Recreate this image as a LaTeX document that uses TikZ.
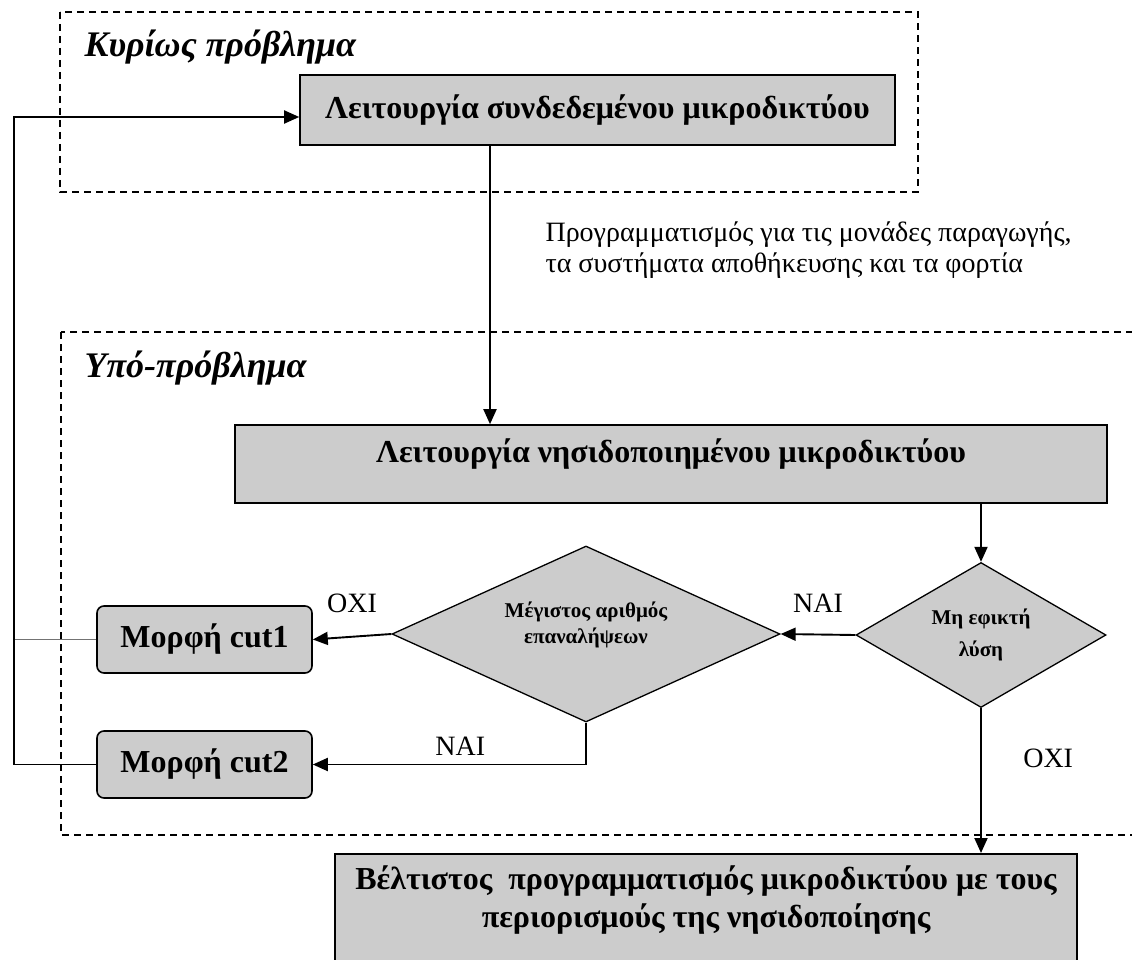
\documentclass[tikz,border=0pt]{standalone}
\usepackage{fontspec}
\setmainfont{Liberation Serif}
\usetikzlibrary{arrows.meta,positioning,shapes.geometric}

\begin{document}
\begin{tikzpicture}[
  x=1pt,y=-1pt,
  font=\fontsize{28}{31}\selectfont,
  box/.style={draw,line width=1.6pt,fill=black!20,align=center,inner sep=0pt,font=\fontsize{32}{38}\selectfont\bfseries},
  cutbox/.style={box,rounded corners=7pt,minimum width=215pt,minimum height=67pt,font=\fontsize{32}{36}\selectfont\bfseries},
  test/.style={diamond,draw,line width=1.3pt,fill=black!20,align=center,inner sep=0pt},
  frame/.style={draw,line width=1.3pt,dash pattern=on 7pt off 5pt},
  title/.style={anchor=base west,font=\fontsize{36}{40}\selectfont\bfseries\itshape},
  lbl/.style={font=\fontsize{28}{31}\selectfont},
  arr/.style={-{Triangle[length=15pt,width=13pt]},line width=1.9pt}
]
\useasboundingbox (0,0) rectangle (1132,960);
\clip (0,0) rectangle (1132,960);
% dashed frames
\draw[frame] (60,12) rectangle (918,192);
\draw[frame] (61,332) rectangle (1150,835);
\node[title] (t1) at (81,57) {Κυρίως πρόβλημα};
\node[title] (t2) at (81,377) {Υπό-πρόβλημα};
% nodes
\node[box,minimum width=595pt,minimum height=70pt] (box1) at (597.5,110) {Λειτουργία συνδεδεμένου μικροδικτύου};
\node[box,minimum width=872pt,minimum height=78pt,text depth=26pt] (box2) at (671,464) {Λειτουργία νησιδοποιημένου μικροδικτύου};
\node[test,shape aspect=1.7,minimum width=250pt,minimum height=145pt,font=\fontsize{21}{32}\selectfont\bfseries] (d2) at (981,635) {Μη εφικτή\\λύση};
\node[test,shape aspect=2.2,minimum width=388pt,minimum height=176pt,text depth=22pt,font=\fontsize{21}{26}\selectfont\bfseries] (d1) at (586,634) {Μέγιστος αριθμός\\επαναλήψεων};
\node[cutbox] (cut1) at (204.5,639.5) {Μορφή cut1};
\node[cutbox] (cut2) at (204.5,764.5) {Μορφή cut2};
\node[box,anchor=north,minimum width=742pt,text height=74pt,text depth=50pt] (box3) at (706,853) {Βέλτιστος\ \ προγραμματισμός μικροδικτύου με τους\\περιορισμούς της νησιδοποίησης};
\node[lbl,anchor=base west,align=left] (sched) at (542,272) {Προγραμματισμός για τις μονάδες παραγωγής,\\τα συστήματα αποθήκευσης και τα φορτία};
\coordinate (drop) at (490,0);
\coordinate (back) at (14,0);
% connectors
\draw[arr] (box1.south -| drop) -- (box2.north -| drop);
\draw[arr] (box2.south -| d2) -- (d2.north);
\draw[arr] (d2.west) -- node[lbl,above=18pt] {ΝΑΙ} (d1.east);
\draw[arr] (d1.west) -- node[lbl,above=20pt] {ΟΧΙ} (cut1.east);
\draw[arr] (d1.south) |- node[lbl,above=5pt,pos=0.73] {ΝΑΙ} (cut2.east);
\draw[arr] (d2.south) -- node[lbl,right=38pt,pos=0.35] {ΟΧΙ} (box3.north -| d2);
\draw[black!55,line width=0.8pt] (cut1.west) -- (cut1.west -| back);
\draw[arr] (cut2.west) -- (cut2.west -| back) |- ([yshift=-7pt]box1.west);
\end{tikzpicture}
\end{document}
